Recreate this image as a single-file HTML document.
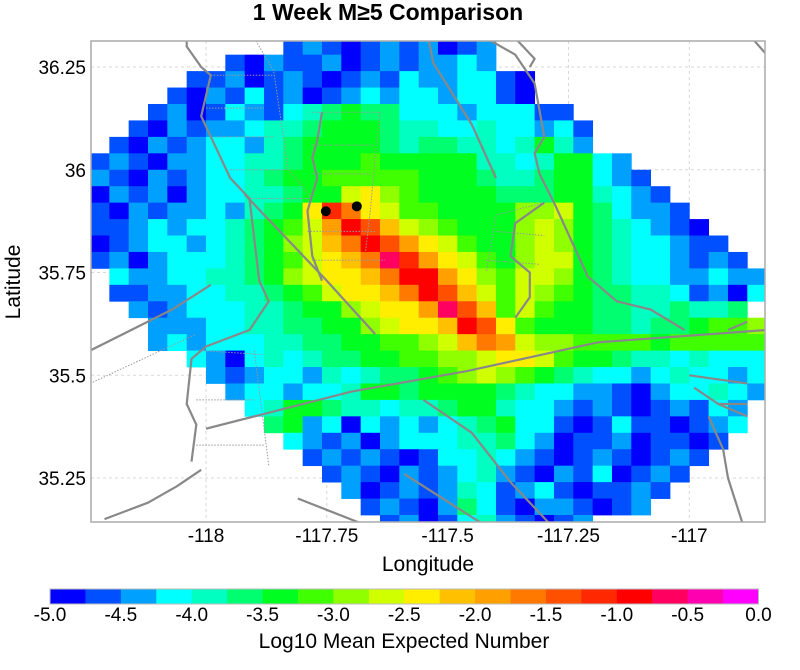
<!DOCTYPE html>
<html><head><meta charset="utf-8"><style>
html,body{margin:0;padding:0;background:#fff;}
svg{display:block;font-family:"Liberation Sans",sans-serif;}
</style></head><body>
<svg id="chart" width="800" height="670" viewBox="0 0 800 670" xmlns="http://www.w3.org/2000/svg">
<text x="388" y="20" text-anchor="middle" font-size="23" font-weight="bold">1 Week M≥5 Comparison</text>
<defs><clipPath id="plotclip"><rect x="91" y="41" width="674" height="481"/></clipPath></defs>
<g id="grid"></g>
<g id="cells" clip-path="url(#plotclip)"></g>
<g id="faults" clip-path="url(#plotclip)"></g>
<g id="events"></g>
<rect x="91" y="41" width="674" height="481" fill="none" stroke="#aaa" stroke-width="1.5"/>
<g id="xticks"></g>
<g id="yticks"></g>
<text x="428" y="571" text-anchor="middle" font-size="21">Longitude</text>
<text transform="translate(20,282) rotate(-90)" text-anchor="middle" font-size="21">Latitude</text>
<g id="colorbar"></g>
<text x="404" y="648" text-anchor="middle" font-size="21">Log10 Mean Expected Number</text>
</svg>
<script>
var lonTicks = [-118, -117.75, -117.5, -117.25, -117];
var lonTickLabels = ["-118", "-117.75", "-117.5", "-117.25", "-117"];
var latTicks = [36.25, 36, 35.75, 35.5, 35.25];
var latTickLabels = ["36.25", "36", "35.75", "35.5", "35.25"];
var cbTicks = [-5, -4.5, -4, -3.5, -3, -2.5, -2, -1.5, -1, -0.5, 0];
var cbTickLabels = ["-5.0","-4.5","-4.0","-3.5","-3.0","-2.5","-2.0","-1.5","-1.0","-0.5","0.0"];
var binColors = ["#0000ff","#0050ff","#00a0ff","#00ffff","#00ffc0","#00ff70","#00ff20","#40ff00","#90ff00","#d0ff00","#ffee00","#ffc000","#ffa000","#ff7800","#ff5000","#ff2800","#ff0000","#ff0060","#ff00b0","#ff00ff"];
var gridLon0 = -118.24;
var gridLat0 = 36.32;
var gridStep = 0.04;
var cellRows = [
"..........bcbabcbcabc..............",
".......bacbbcabcbccdc..............",
".....bbcabcbabcbdccddba............",
"....bacbdbcabcdcddcddba............",
"...bcabdcbdefgffdddcdddbb..........",
"..bacbccdeefgggfeeddeddcdb.........",
".bacbcddcefggggfeffeedegec........",
"bcbaccddeefggghgggggeedeggdc.......",
"cbacbcddefgghhhhhgggfeefggdcb......",
"acbcacddeefggjkihggggfffggedcb.....",
"bacbccdcefgkpnkjhhggggiijgfdccb....",
"bbcdcddefghjmqoljihgggijigfedcba...",
"abcddcdefgijlnqomkjhggijigfeddcbb..",
"bcacdddefghjklnrpmkjhgijjgfeddcbcb.",
".dccddeefgijkklnqqmkihjjigfeddccdcc",
".bbccddeefghjkklnqoljhjihgffeedbcad",
"..cbcdddeefggijkkmrolhjhggffeefeef",
"...cccddeeffggijkklqokhgggffeffghhi",
"...cdcdddeeffgghhijlnmjiihhhhghhhhh",
".....dcadedeffgghhiijkkjhggfeededdd",
"......cbcddcedeffghijihgfeddcdeddcd",
".......cddcddeggfggggfeddccbacddedc",
"........deggfeedeefggeddcbcbabcbdc.",
".........fgcdadcdcdefgddbabdbbabcd.",
"..........dcbcacdddeefdcabbcabbab..",
"...........bcbcbabddedcbabcbabcb...",
"............bcbacbcdecbacbdabcb....",
".............cabcbcedbcdbabbcb.....",
"..............bcbacfdbaccbabc......",
"...............bcabdecbabc........."
];
var faultLines = [
 [[-118.24,35.56],[-118.07,35.66],[-117.99,35.72]],
 [[-118.00,35.37],[-117.70,35.46],[-117.46,35.51],[-117.19,35.58],[-116.84,35.61]],
 [[-118.21,35.15],[-118.12,35.19],[-118.06,35.23],[-118.01,35.27]],
 [[-118.03,35.29],[-118.02,35.38],[-118.04,35.43],[-118.03,35.54],[-118.00,35.57],[-117.91,35.61],[-117.87,35.68],[-117.89,35.73],[-117.91,35.93],[-117.95,35.98],[-118.01,36.13],[-117.99,36.23],[-118.01,36.25],[-118.04,36.30],[-118.04,36.32]],
 [[-117.92,35.94],[-117.75,35.73],[-117.65,35.60]],
 [[-117.76,36.14],[-117.77,36.07],[-117.78,36.03],[-117.77,35.98],[-117.79,35.90],[-117.78,35.79],[-117.76,35.73]],
 [[-117.54,36.32],[-117.53,36.26],[-117.45,36.11],[-117.40,35.98]],
 [[-117.42,36.32],[-117.36,36.28],[-117.32,36.21],[-117.30,36.08],[-117.32,36.04],[-117.31,35.99],[-117.28,35.92],[-117.21,35.74],[-117.15,35.68],[-117.08,35.66],[-117.01,35.61]],
 [[-117.36,36.32],[-117.32,36.27],[-117.33,36.25]],
 [[-117.30,35.92],[-117.36,35.87],[-117.37,35.79],[-117.33,35.75],[-117.33,35.69],[-117.36,35.64]],
 [[-117.00,35.50],[-116.88,35.48]],
 [[-116.99,35.47],[-116.94,35.43],[-116.88,35.40]],
 [[-116.94,35.43],[-116.88,35.43]],
 [[-116.96,35.40],[-116.93,35.32],[-116.92,35.25],[-116.89,35.14]],
 [[-116.92,35.61],[-116.88,35.63]],
 [[-117.55,35.44],[-117.45,35.36],[-117.37,35.24],[-117.29,35.14]],
 [[-117.59,35.26],[-117.43,35.14]],
 [[-117.81,35.20],[-117.68,35.14]],
 [[-116.87,36.32],[-116.84,36.28]]
];
var dottedLines = [
 [[-117.99,36.23],[-117.86,36.23]],[[-118.00,36.15],[-117.88,36.15]],[[-117.98,36.08],[-117.86,36.08]],
 [[-117.95,36.00],[-117.83,36.00]],[[-117.91,35.93],[-117.78,35.93]],[[-117.90,36.32],[-117.86,36.24],[-117.83,36.00],[-117.78,35.93]],
 [[-117.78,36.14],[-117.64,36.14]],[[-117.64,36.14],[-117.65,36.03],[-117.66,35.90],[-117.67,35.80]],
 [[-117.78,36.06],[-117.65,36.06]],[[-117.78,35.99],[-117.66,35.99]],[[-117.79,35.85],[-117.65,35.85]],
 [[-117.78,35.78],[-117.63,35.78]],[[-117.30,35.92],[-117.40,35.89],[-117.42,35.75]],
 [[-117.40,35.85],[-117.30,35.84]],[[-117.42,35.78],[-117.31,35.77]],
 [[-118.24,35.48],[-118.02,35.60]],[[-118.01,35.56],[-117.88,35.55]],[[-118.02,35.44],[-117.90,35.44]],
 [[-118.02,35.33],[-117.88,35.33]],[[-117.90,35.56],[-117.87,35.28]]
];
var eventLons = [-117.752, -117.688];
var eventLats = [35.899, 35.911];

var svgNS = "http://www.w3.org/2000/svg";
function xScale(lon){ return 206 + (lon + 118) * 483.3; }
function yScale(lat){ return 478 - (lat - 35.25) * 411; }
function cbScale(v){ return 50 + (v + 5) / 5 * 708.5; }
function mk(tag, parent, attrs){ var e = document.createElementNS(svgNS, tag); for (var k in attrs) e.setAttribute(k, attrs[k]); parent.appendChild(e); return e; }

var grid = document.getElementById('grid');
lonTicks.forEach(function(t){
  var l = mk('line', grid, {x1:xScale(t), x2:xScale(t), y1:41, y2:522, stroke:'#d8d8d8', 'stroke-dasharray':'3,3', 'stroke-width':1});
  
  
});
latTicks.forEach(function(t){
  var l = mk('line', grid, {x1:91, x2:765, y1:yScale(t), y2:yScale(t), stroke:'#d8d8d8', 'stroke-dasharray':'3,3', 'stroke-width':1});
  
  
});

var cells = document.getElementById('cells');
var codeBase = 'a'.charCodeAt(0);
cellRows.forEach(function(row, r){
  for (var c = 0; c < row.length; c++){
    var ch = row.charAt(c);
    if (ch === '.' || ch === ' ') continue;
    var bin = ch.charCodeAt(0) - codeBase;
    if (bin < 0 || bin > 19) continue;
    var value = -5 + 0.25 * bin + 0.125;
    var lon = gridLon0 + c * gridStep, lat = gridLat0 - r * gridStep;
    var x0 = xScale(lon), x1 = xScale(lon + gridStep), y0 = yScale(lat), y1 = yScale(lat - gridStep);
    var idx = Math.min(19, Math.max(0, Math.floor((value + 5) / 0.25)));
    var rc = mk('rect', cells, {x:x0.toFixed(2), y:y0.toFixed(2), width:(x1 - x0 + 0.4).toFixed(2), height:(y1 - y0 + 0.4).toFixed(2), fill:binColors[idx]});
    
    
  }
});

var faults = document.getElementById('faults');
dottedLines.forEach(function(pts){
  var p = mk('polyline', faults, {points: pts.map(function(q){return xScale(q[0]).toFixed(1)+','+yScale(q[1]).toFixed(1);}).join(' '), fill:'none', stroke:'#999', 'stroke-width':1, 'stroke-dasharray':'1.5,1.5'});
  
  
});
faultLines.forEach(function(pts){
  var p = mk('polyline', faults, {points: pts.map(function(q){return xScale(q[0]).toFixed(1)+','+yScale(q[1]).toFixed(1);}).join(' '), fill:'none', stroke:'#888', 'stroke-width':2.2, 'stroke-linejoin':'round'});
  
  
});

var events = document.getElementById('events');
eventLons.forEach(function(lon, i){
  var c = mk('circle', events, {cx:xScale(lon), cy:yScale(eventLats[i]), r:5, fill:'#000'});
  
  
});

var xt = document.getElementById('xticks');
lonTicks.forEach(function(t, i){
  var tx = mk('text', xt, {x:xScale(t), y:542, 'text-anchor':'middle', 'font-size':19});
  tx.textContent = lonTickLabels[i];
  
  
});
var yt = document.getElementById('yticks');
latTicks.forEach(function(t, i){
  var tx = mk('text', yt, {x:86, y:yScale(t) + 7, 'text-anchor':'end', 'font-size':19});
  tx.textContent = latTickLabels[i];
  
  
});

var cb = document.getElementById('colorbar');
binColors.forEach(function(col, i){
  var v0 = -5 + i * 0.25;
  var r = mk('rect', cb, {x:cbScale(v0).toFixed(2), y:589, width:(cbScale(v0 + 0.25) - cbScale(v0) + 0.4).toFixed(2), height:15, fill:col});
  
  
});
var cbb = mk('rect', cb, {x:50, y:589, width:708.5, height:15, fill:'none', stroke:'#bbb', 'stroke-width':1});


cbTicks.forEach(function(t, i){
  var tx = mk('text', cb, {x:cbScale(t), y:621, 'text-anchor':'middle', 'font-size':19});
  tx.textContent = cbTickLabels[i];
  
  
});
</script>
</body></html>
